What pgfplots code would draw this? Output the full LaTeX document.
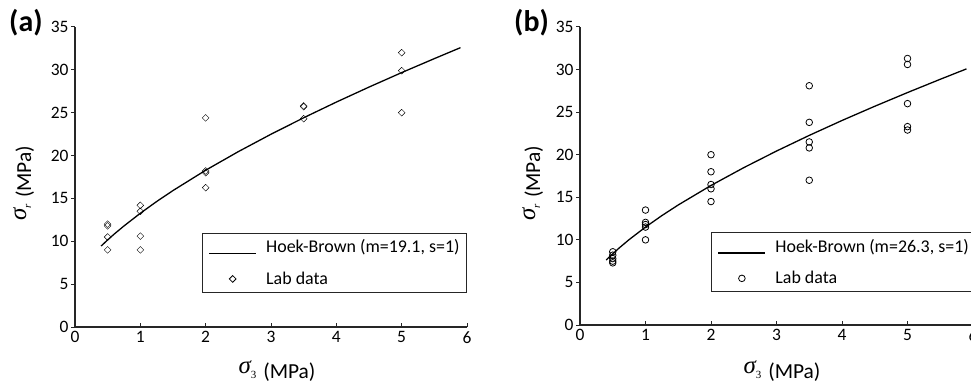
\documentclass[border=0pt]{standalone}
\usepackage{fontspec}
\setmainfont{Carlito}
\newfontfamily\tnr{Liberation Serif}
\usepackage{pgfplots}
\pgfplotsset{compat=1.18}
\begin{document}
\begin{tikzpicture}
\pgfplotsset{
 myaxis/.style={
  scale only axis, anchor=south west,
  xmin=0,xmax=6,ymin=0,ymax=35,
  xtick={0,1,2,3,4,5,6}, ytick={0,5,10,15,20,25,30,35},
  axis lines*=left,
  axis line style={black!85, line width=1.2bp},
  tick style={black!85, line width=1.0bp},
  major tick length=4bp,
  tick align=inside,
  every major y tick/.append style={xshift=-4bp},
  /pgf/number format/assume math mode=true,
  tick label style={font=\fontsize{17.5}{18}\selectfont},
  yticklabel style={xshift=-3bp},
  xticklabel style={yshift=-1bp},
  clip=false,
  legend cell align=left,
  legend style={draw=black!85, line width=0.8bp, font=\fontsize{18}{18}\selectfont,
    inner xsep=7bp, inner ysep=6.2bp, row sep=15.8bp, column sep=10bp,
    nodes={inner sep=0pt, text height=13.5bp, text depth=2bp}},
 },
 hb/.style={black, line width=1.3bp, legend image code/.code={\path[draw=none,fill=none] (0bp,0bp) (47bp,0bp); \draw[overlay,##1] (0bp,-6.5bp) -- (47bp,-6.5bp);}},
 lab/.style={only marks, black, mark options={line width=0.8bp, fill=white},
   legend image code/.code={\path[draw=none,fill=none] (0bp,0bp) (47bp,0bp); \draw[overlay,mark repeat=2,mark phase=2,##1] plot coordinates {(0bp,-0.5bp) (23.5bp,-0.5bp) (47bp,-0.5bp)};}},
}
\begin{axis}[myaxis, at={(75bp,56bp)}, width=392bp, height=300bp,
  legend style={at={(rel axis cs:1,0.114)}, anchor=south east}]
\addplot[hb] coordinates {(0.4,9.45) (0.5,10.16) (0.6,10.84) (0.75,11.79) (1.0,13.27) (1.25,14.64) (1.5,15.92) (2.0,18.29) (2.5,20.46) (3.0,22.49) (3.5,24.41) (4.0,26.24) (4.5,27.99) (5.0,29.68) (5.5,31.31) (5.9,32.59)};
\addlegendentry{Hoek-Brown (m=19.1, s=1)}
\addplot[lab, mark=square, mark size=2.4bp, mark options={rotate=45}] coordinates {
(0.5,12.0) (0.5,11.8) (0.5,10.5) (0.5,9.0)
(1,14.2) (1,13.5) (1,10.6) (1,9.0)
(2,24.4) (2,18.2) (2,18.0) (2,16.25)
(3.5,25.8) (3.5,25.7) (3.5,24.3)
(5,32.0) (5,29.9) (5,25.0)};
\addlegendentry{Lab data}
\end{axis}
\begin{axis}[myaxis, at={(580bp,58bp)}, width=393bp, height=298bp,
  legend style={at={(rel axis cs:0.3333,0.110)}, anchor=south west}]
\addplot[hb] coordinates {(0.4,7.63) (0.5,8.37) (0.6,9.06) (0.75,10.03) (1.0,11.50) (1.25,12.85) (1.5,14.10) (2.0,16.39) (2.5,18.48) (3.0,20.43) (3.5,22.27) (4.0,24.02) (4.5,25.69) (5.0,27.30) (5.5,28.86) (5.9,30.08)};
\addlegendentry{Hoek-Brown (m=26.3, s=1)}
\addplot[lab, mark=o, mark size=3.3bp] coordinates {
(0.5,8.6) (0.5,8.2) (0.5,7.8) (0.5,7.5) (0.5,7.3)
(1,13.5) (1,12.05) (1,11.8) (1,11.5) (1,10.0)
(2,20.0) (2,18.0) (2,16.5) (2,16.0) (2,14.5)
(3.5,28.1) (3.5,23.8) (3.5,21.5) (3.5,20.8) (3.5,17.0)
(5,31.3) (5,30.6) (5,26.0) (5,23.3) (5,22.9)};
\addlegendentry{Lab data}
\end{axis}
% panel letters
\node[anchor=base west, inner sep=0pt, font=\fontsize{30}{30}\bfseries\selectfont] at (9bp,351bp) {(a)};
\node[anchor=base west, inner sep=0pt, font=\fontsize{30}{30}\bfseries\selectfont] at (514bp,351bp) {(b)};
% axis titles
\node[anchor=base, inner sep=0pt] at (277bp,4.5bp) {\raisebox{5bp}{\tnr\itshape\fontsize{25}{25}\selectfont σ}{\tnr\fontsize{11}{11}\selectfont 3}\hspace{7bp}{\fontsize{21.5}{22}\selectfont (MPa)}};
\node[anchor=base, inner sep=0pt] at (782bp,4.5bp) {\raisebox{5bp}{\tnr\itshape\fontsize{25}{25}\selectfont σ}{\tnr\fontsize{11}{11}\selectfont 3}\hspace{7bp}{\fontsize{21.5}{22}\selectfont (MPa)}};
\node[anchor=base, rotate=90, inner sep=0pt] at (31bp,200bp) {\raisebox{5bp}{\tnr\itshape\fontsize{25}{25}\selectfont σ}{\tnr\itshape\fontsize{11}{11}\selectfont r}\hspace{6bp}{\fontsize{21.5}{22}\selectfont (MPa)}};
\node[anchor=base, rotate=90, inner sep=0pt] at (540bp,200bp) {\raisebox{5bp}{\tnr\itshape\fontsize{25}{25}\selectfont σ}{\tnr\itshape\fontsize{11}{11}\selectfont r}\hspace{6bp}{\fontsize{21.5}{22}\selectfont (MPa)}};
\pgfresetboundingbox
\path[use as bounding box] (0bp,0bp) rectangle (971bp,383bp);
\end{tikzpicture}
\end{document}
